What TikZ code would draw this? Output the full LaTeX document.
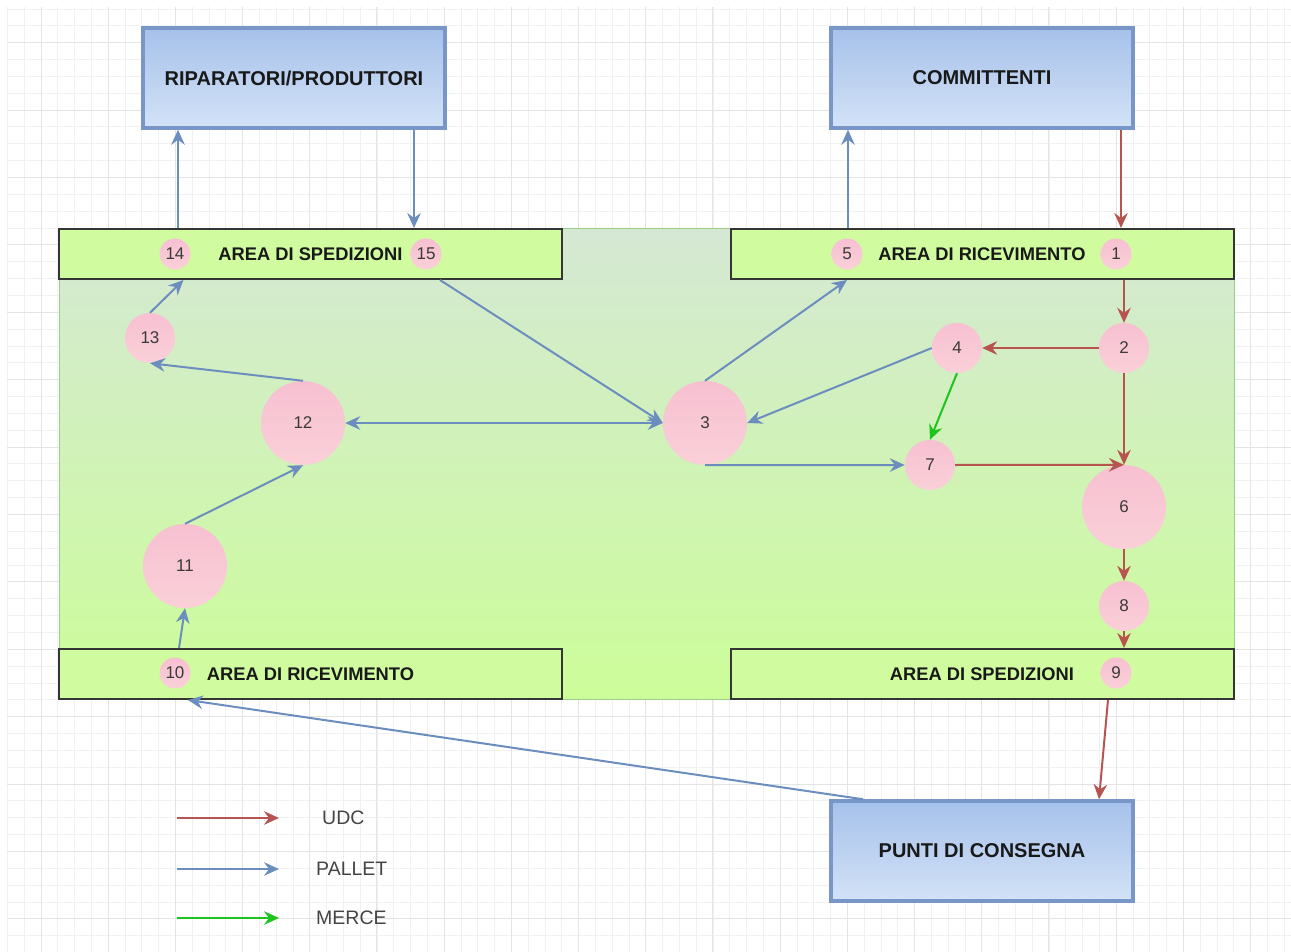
\documentclass[tikz,border=0pt]{standalone}
\usepackage{fontspec}
\setmainfont{Liberation Sans}
\usetikzlibrary{arrows.meta,calc}

\definecolor{udccol}{HTML}{B85450}
\definecolor{palcol}{HTML}{6C8EBF}
\definecolor{mercol}{HTML}{1EC41E}
\definecolor{boxedge}{HTML}{7896C8}
\definecolor{boxtop}{HTML}{A6C1EA}
\definecolor{boxbot}{HTML}{D3E2F7}
\definecolor{barfill}{HTML}{D0FC9F}
\definecolor{baredge}{HTML}{353535}
\definecolor{zonetop}{HTML}{D5E8D4}
\definecolor{zonebot}{HTML}{CCFD99}
\definecolor{zoneedge}{HTML}{9CCB8E}
\definecolor{pinktop}{HTML}{F7C0D1}
\definecolor{pinkbot}{HTML}{FAD0D8}
\definecolor{numtext}{HTML}{3A3A3A}
\definecolor{legtext}{HTML}{444444}
\definecolor{gridminor}{HTML}{F1F1F1}
\definecolor{gridmajor}{HTML}{E4E4E4}

\tikzset{
  party/.style={draw=boxedge, line width=3.5pt, top color=boxtop, bottom color=boxbot,
    minimum width=302pt, minimum height=100pt, inner sep=0pt,
    font=\fontsize{20}{24}\selectfont\bfseries, text=black!90},
  areabar/.style={draw=baredge, line width=2pt, fill=barfill,
    minimum width=503pt, minimum height=50pt, inner sep=0pt,
    font=\fontsize{18.3}{22}\selectfont\bfseries, text=black!90},
  station/.style={circle, inner sep=0pt, top color=pinktop, bottom color=pinkbot,
    font=\fontsize{17}{20}\selectfont, text=numtext},
  small/.style={station, minimum size=31pt},
  mid/.style={station, minimum size=50pt},
  big/.style={station, minimum size=84pt},
  tipstyle/.style={-{Stealth[length=15pt,width=13.5pt,inset=5pt]}},
  udc/.style={draw=udccol, line width=2pt, tipstyle},
  pallet/.style={draw=palcol, line width=2pt, tipstyle},
  merce/.style={draw=mercol, line width=2pt, tipstyle},
  legend/.style={anchor=west, inner sep=0pt, font=\fontsize{19.5}{23}\selectfont, text=legtext},
}

\begin{document}
\begin{tikzpicture}[x=1pt,y=-1pt]
\useasboundingbox (0,0) rectangle (1291,952);
\fill[white] (0,0) rectangle (1291,952);

% background grid, snapped to whole pixels
\foreach \i in {0,...,76} {
  \pgfmathsetmacro{\gx}{round(6.9+\i*16.8)+0.5}
  \draw[gridminor, line width=1pt] (\gx,7) -- (\gx,952);
}
\foreach \j in {0,...,56} {
  \pgfmathsetmacro{\gy}{round(8.5+\j*16.85)+0.5}
  \draw[gridminor, line width=1pt] (7,\gy) -- (1291,\gy);
}
\foreach \i in {0,...,18} {
  \pgfmathsetmacro{\gx}{round(40.5+\i*67.2)+0.5}
  \draw[gridmajor, line width=1pt] (\gx,7) -- (\gx,952);
}
\foreach \j in {0,...,13} {
  \pgfmathsetmacro{\gy}{round(42.2+\j*67.4)+0.5}
  \draw[gridmajor, line width=1pt] (7,\gy) -- (1291,\gy);
}

% warehouse floor
\draw[draw=zoneedge, line width=1pt, top color=zonetop, bottom color=zonebot]
  (59,229) rectangle (1234,699);

% external parties
\node[party] (rip) at (294,78) {RIPARATORI/PRODUTTORI};
\node[party] (com) at (982,78) {COMMITTENTI};
\node[party] (pun) at (982,851) {PUNTI DI CONSEGNA};

% receiving and shipping areas
\node[areabar] (sp1)  at (310.5,254) {AREA DI SPEDIZIONI};
\node[areabar] (ric1) at (982,254)   {AREA DI RICEVIMENTO};
\node[areabar] (ric2) at (310.5,674) {AREA DI RICEVIMENTO};
\node[areabar] (sp2)  at (982,674)   {AREA DI SPEDIZIONI};

% numbered stations
\node[small] (n14) at (175,254)  {14};
\node[small] (n15) at (426,254)  {15};
\node[small] (n5)  at (847,254)  {5};
\node[small] (n1)  at (1116,254) {1};
\node[small] (n10) at (175,673)  {10};
\node[small] (n9)  at (1116,673) {9};
\node[mid]   (n13) at (150,338)  {13};
\node[mid]   (n4)  at (957,348)  {4};
\node[mid]   (n2)  at (1124,348) {2};
\node[mid]   (n7)  at (930,465)  {7};
\node[mid]   (n8)  at (1124,606) {8};
\node[big]   (n12) at (303,423)  {12};
\node[big]   (n3)  at (705,423)  {3};
\node[big]   (n11) at (185,566)  {11};
\node[big]   (n6)  at (1124,507) {6};

% UDC flow
\draw[udc] ($(com.south)+(139,0)$) -- ($(ric1.north)+(139,0)$);
\draw[udc] (ric1.south -| n2) -- (n2.north);
\draw[udc] (n2.west) -- (n4.east);
\draw[udc] (n2.south) -- (n6.north);
\draw[udc] (n7.east) -- (n6.north);
\draw[udc] (n6.south) -- (n8.north);
\draw[udc] (n8.south) -- (sp2.north -| n8);
\draw[udc] ($(sp2.south)+(126,0)$) -- ($(pun.north)+(117,0)$);

% pallet flow
\draw[pallet] ($(ric1.north)+(-134,0)$) -- ($(com.south)+(-134,0)$);
\draw[pallet] (n3.north) -- (ric1.south -| n5);
\draw[pallet] (n4.west) -- (n3.east);
\draw[pallet] (n3.south) -- (n7.west);
\draw[pallet] ($(sp1.south)+(129.5,0)$) -- (n3.west);
\draw[pallet, {Stealth[length=15pt,width=13.5pt,inset=5pt]}-{Stealth[length=15pt,width=13.5pt,inset=5pt]}] (n12.east) -- (n3.west);
\draw[pallet] (n12.north) -- (n13.south);
\draw[pallet] (n13.north) -- ($(sp1.south)+(-127,0)$);
\draw[pallet] ($(sp1.north)+(-132.5,0)$) -- ($(rip.south)+(-116,0)$);
\draw[pallet] ($(rip.south)+(120,0)$) -- ($(sp1.north)+(103.5,0)$);
\draw[pallet] (n11.north) -- (n12.south);
\draw[pallet] ($(ric2.north)+(-131.5,0)$) -- (n11.south);
\draw[pallet] ($(pun.north)+(-119,0)$) -- ($(ric2.south)+(-122.5,0)$);

% goods flow
\draw[merce] (n4.south) -- (n7.north);

% legend
\coordinate (lu0) at (177,818);
\coordinate (lu1) at (279,818);
\coordinate (lp0) at (177,869);
\coordinate (lp1) at (279,869);
\coordinate (lm0) at (177,918);
\coordinate (lm1) at (279,918);
\draw[udc] (lu0) -- (lu1);
\draw[pallet] (lp0) -- (lp1);
\draw[merce] (lm0) -- (lm1);
\node[legend] (tudc) at (322,818) {UDC};
\node[legend] (tpal) at (316,869) {PALLET};
\node[legend] (tmer) at (316,918) {MERCE};
\end{tikzpicture}
\end{document}
